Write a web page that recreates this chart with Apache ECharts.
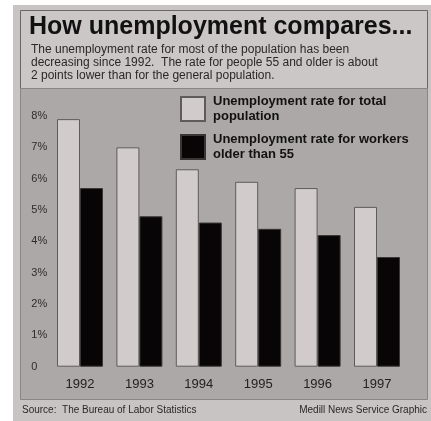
<!DOCTYPE html>
<html>
<head>
<meta charset="utf-8">
<script src="https://cdn.jsdelivr.net/npm/echarts@6/dist/echarts.min.js"></script>
<style>
  html, body { margin: 0; padding: 0; background: #ffffff; }
  #chart { width: 431px; height: 421px; }
</style>
</head>
<body>
<div id="chart"></div>
<script>
// Unemployment rates by year (percent)
const years = ['1992', '1993', '1994', '1995', '1996', '1997'];
const totalRate = [7.9, 7.0, 6.3, 5.9, 5.7, 5.1];
const olderRate = [5.7, 4.8, 4.6, 4.4, 4.2, 3.5];
const yTicks = [0, 1, 2, 3, 4, 5, 6, 7, 8];

const titleText = 'How unemployment compares...';
const subText = 'The unemployment rate for most of the population has been\n' +
  'decreasing since 1992.  The rate for people 55 and older is about\n' +
  '2 points lower than for the general population.';
const sourceText = 'Source:  The Bureau of Labor Statistics';
const creditText = 'Medill News Service Graphic';
const totalName = 'Unemployment rate for total\npopulation';
const olderName = 'Unemployment rate for workers\nolder than 55';

const FONT = '"Liberation Sans", Arial, Helvetica, sans-serif';

const chart = echarts.init(document.getElementById('chart'), null, { renderer: 'canvas' });

chart.setOption({
  animation: false,
  backgroundColor: '#ffffff',
  textStyle: { fontFamily: FONT },
  graphic: [
    // page backdrop
    { type: 'rect', z: -10, shape: { x: 13, y: 5, width: 418, height: 416 }, style: { fill: '#c8c4c3' } },
    // header box
    { type: 'rect', z: -9, shape: { x: 20.5, y: 10.5, width: 407, height: 78 },
      style: { fill: '#cac7c6', stroke: '#6a6666', lineWidth: 1 } },
    // chart panel
    { type: 'rect', z: -9, shape: { x: 20.5, y: 88.5, width: 407, height: 311 },
      style: { fill: '#aca8a7', stroke: '#8a8685', lineWidth: 1 } },
    // footer texts
    { type: 'text', left: 22, top: 405,
      style: { text: sourceText, font: '10px ' + FONT, fill: '#2a2828' } },
    { type: 'text', right: 4, top: 405,
      style: { text: creditText, font: '10px ' + FONT, fill: '#2a2828' } }
  ],
  title: [
    {
      text: titleText,
      left: 29, top: 15,
      padding: 0,
      textStyle: { fontFamily: FONT, fontSize: 25, fontWeight: 'bold', color: '#111' }
    },
    {
      text: subText,
      left: 31, top: 43,
      padding: 0,
      textStyle: { fontFamily: FONT, fontSize: 12, fontWeight: 'normal', color: '#2a2828', lineHeight: 13 }
    }
  ],
  legend: {
    orient: 'vertical',
    left: 175, top: 89,
    itemWidth: 24, itemHeight: 24,
    itemGap: 8,
    icon: 'rect',
    selectedMode: false,
    data: [totalName, olderName],
    textStyle: { fontFamily: FONT, fontSize: 13, fontWeight: 'bold', color: '#111', lineHeight: 15, padding: [0, 0, 0, 3] }
  },
  grid: { left: 50.3, right: 24.3, top: 116, bottom: 54.3, containLabel: false },
  xAxis: {
    type: 'category',
    data: years,
    axisLine: { show: false },
    axisTick: { show: false },
    axisLabel: { margin: 11, fontSize: 13, color: '#222', fontFamily: FONT }
  },
  yAxis: {
    type: 'value',
    min: 0, max: 8, interval: 1,
    splitLine: { show: false },
    axisLine: { show: false },
    axisTick: { show: false },
    axisLabel: {
      align: 'left', margin: 19,
      fontSize: 11, color: '#2e2c2c', fontFamily: FONT,
      padding: [0, 0, 8, 0],
      formatter: v => (yTicks.includes(v) ? (v === 0 ? '0' : v + '%') : '')
    }
  },
  series: [
    {
      name: totalName,
      type: 'bar',
      data: totalRate,
      barWidth: 23,
      barGap: '0%',
      itemStyle: { color: '#d1cccb', borderColor: '#5f5b5a', borderWidth: 1 }
    },
    {
      name: olderName,
      type: 'bar',
      data: olderRate,
      barWidth: 23,
      barGap: '0%',
      itemStyle: { color: '#070505', borderColor: '#3a3636', borderWidth: 1 }
    }
  ]
});
</script>
</body>
</html>
